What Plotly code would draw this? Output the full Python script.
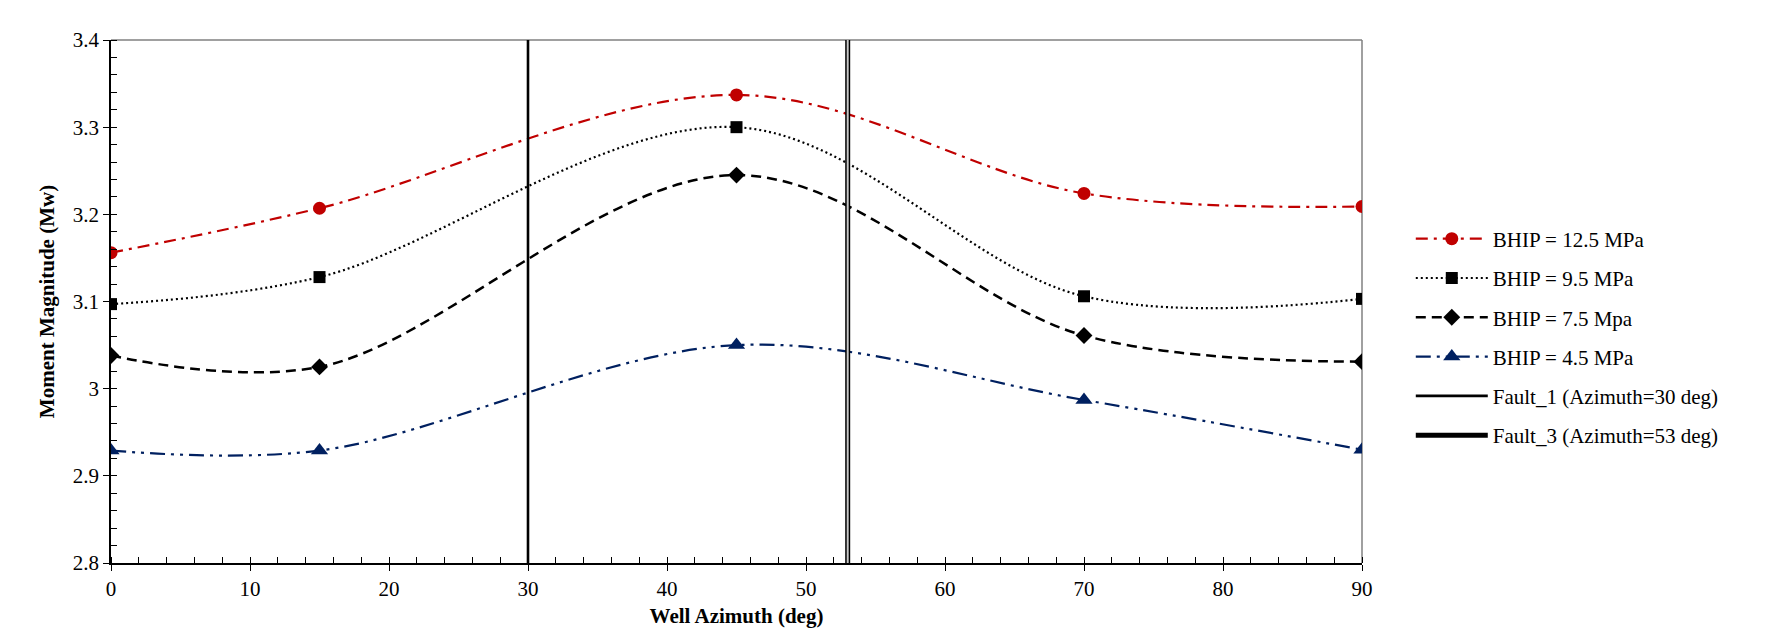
import plotly.graph_objects as go

# Well azimuth (deg) and moment magnitude (Mw) for each bottom-hole injection pressure
azimuth = [0, 15, 45, 70, 90]
bhip_12_5 = [3.156, 3.207, 3.337, 3.224, 3.209]
bhip_9_5 = [3.097, 3.128, 3.300, 3.106, 3.103]
bhip_7_5 = [3.038, 3.025, 3.245, 3.061, 3.031]
bhip_4_5 = [2.929, 2.929, 3.050, 2.987, 2.930]

series_names = ["BHIP = 12.5 MPa", "BHIP = 9.5 MPa", "BHIP = 7.5 Mpa", "BHIP = 4.5 MPa"]

# Fault azimuths drawn as vertical reference lines
fault_names = ["Fault_1 (Azimuth=30 deg)", "Fault_3 (Azimuth=53 deg)"]
fault_azimuth = [30, 53]

x_ticks = [0, 10, 20, 30, 40, 50, 60, 70, 80, 90]
y_ticks = [2.8, 2.9, 3.0, 3.1, 3.2, 3.3, 3.4]
y_tick_labels = ["2.8", "2.9", "3", "3.1", "3.2", "3.3", "3.4"]
y_range = [2.8, 3.4]

FONT = "Liberation Serif"
RED = "#C00000"
NAVY = "#002060"

styles = [
    dict(color=RED, dash="12px,6px,3px,6px", width=2.2, symbol="circle", msize=13),
    dict(color="black", dash="2px,3px", width=2.2, symbol="square", msize=12),
    dict(color="black", dash="10px,6px", width=2.5, symbol="diamond", msize=13),
    dict(color=NAVY, dash="15px,6px,3px,6px,3px,6px", width=2.2, symbol="triangle-up", msize=15),
]

fig = go.Figure()

for i, (name, vals, st) in enumerate(zip(series_names, [bhip_12_5, bhip_9_5, bhip_7_5, bhip_4_5], styles)):
    fig.add_trace(go.Scatter(
        x=azimuth, y=vals, name=name, legendgroup=f"g{i}",
        mode="lines+markers",
        line=dict(color=st["color"], dash=st["dash"], width=st["width"], shape="spline", smoothing=1.0),
        marker=dict(symbol=st["symbol"], size=st["msize"], color=st["color"]),
    ))

# Fault_1: single solid line
fig.add_trace(go.Scatter(
    x=[fault_azimuth[0]] * 2, y=y_range, name=fault_names[0], legendgroup="f1",
    mode="lines", line=dict(color="black", width=2.6),
))
# Fault_3: double line (dark outline with light core)
fig.add_trace(go.Scatter(
    x=[fault_azimuth[1]] * 2, y=y_range, name=fault_names[1], legendgroup="f3",
    mode="lines", line=dict(color="black", width=5),
))
fig.add_trace(go.Scatter(
    x=[fault_azimuth[1]] * 2, y=y_range, name=fault_names[1], legendgroup="f3",
    mode="lines", line=dict(color="#C8C8C8", width=2), showlegend=False,
))

tick_font = dict(family=FONT, size=21, color="black")

fig.update_layout(
    width=1765, height=631,
    margin=dict(l=111, r=403, t=40, b=68),
    paper_bgcolor="white", plot_bgcolor="white",
    font=dict(family=FONT, size=21, color="black"),
    showlegend=True,
    legend=dict(
        x=1.039, xanchor="left", y=0.432, yanchor="middle",
        font=dict(family=FONT, size=21, color="black"),
        traceorder="grouped", tracegroupgap=9,
        itemwidth=72, bgcolor="rgba(0,0,0,0)",
    ),
    xaxis=dict(
        range=[0, 90], tickvals=x_ticks, ticktext=[str(v) for v in x_ticks],
        ticks="outside", ticklen=6, tickwidth=1.3, tickcolor="black",
        minor=dict(dtick=2, ticks="inside", ticklen=6, tickwidth=1.3, tickcolor="black"),
        showline=True, linecolor="black", linewidth=1.5, automargin=False,
        showgrid=False, zeroline=False, tickfont=tick_font,
        title=dict(text="<b>Well Azimuth (deg)</b>", font=dict(family=FONT, size=21), standoff=8),
    ),
    yaxis=dict(
        range=y_range, tickvals=y_ticks, ticktext=y_tick_labels,
        ticks="outside", ticklen=6, tickwidth=1.3, tickcolor="black",
        minor=dict(dtick=0.02, ticks="inside", ticklen=6, tickwidth=1.3, tickcolor="black"),
        showline=True, linecolor="black", linewidth=1.5, automargin=False,
        showgrid=False, zeroline=False, tickfont=tick_font,
        title=dict(text="<b>Moment Magnitude (Mw)</b>", font=dict(family=FONT, size=21), standoff=12),
    ),
    # overlay axes giving the inner half of the major ticks
    xaxis2=dict(
        overlaying="x", anchor="y", side="bottom", range=[0, 90], tickvals=x_ticks,
        ticks="inside", ticklen=6, tickwidth=1.3, tickcolor="black", automargin=False,
        showticklabels=False, showline=False, showgrid=False, zeroline=False,
    ),
    yaxis2=dict(
        overlaying="y", anchor="x", side="left", range=y_range, tickvals=y_ticks,
        ticks="inside", ticklen=6, tickwidth=1.3, tickcolor="black", automargin=False,
        showticklabels=False, showline=False, showgrid=False, zeroline=False,
    ),
)

# light frame on the top and right of the plot area
fig.add_shape(type="line", xref="paper", yref="paper", x0=0, x1=1, y0=1, y1=1,
              line=dict(color="#808080", width=1.5), layer="below")
fig.add_shape(type="line", xref="paper", yref="paper", x0=1, x1=1, y0=0, y1=1,
              line=dict(color="#808080", width=1.5), layer="below")

fig.write_html("out.html")
